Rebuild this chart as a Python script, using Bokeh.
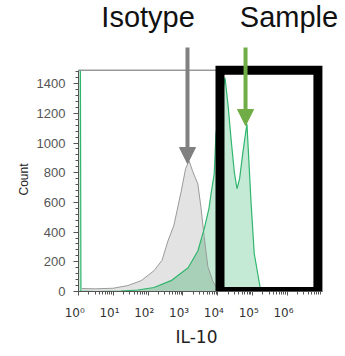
import numpy as np
from bokeh.plotting import figure
from bokeh.models import Arrow, NormalHead, Label, FixedTicker, SingleIntervalTicker, Range1d, Title
from bokeh.embed import file_html
from bokeh.resources import INLINE

# ---------------- data (log10 IL-10 intensity, event count) ----------------
iso_exp = [0.10, 0.50, 1.00, 1.42, 1.80, 2.17, 2.40, 2.57, 2.74, 2.95, 3.08, 3.18,
           3.28, 3.43, 3.52, 3.61, 3.72, 3.86, 3.97, 4.10]
iso_count = [20, 18, 22, 40, 73, 140, 210, 340, 445, 673, 830, 880,
             810, 725, 565, 370, 165, 70, 25, 5]

sam_exp = [0.00, 0.055, 0.07, 0.50, 1.22, 1.70, 2.17, 2.66, 3.15, 3.43, 3.61, 3.75,
           3.81, 3.90, 3.95, 4.21, 4.30, 4.38, 4.48, 4.555, 4.63, 4.72, 4.84,
           4.96, 5.05, 5.20, 5.24]
sam_count = [1490, 1490, 3, 0, 3, 10, 27, 73, 160, 273, 420, 560,
             660, 792, 1060, 1440, 1250, 1037, 800, 692, 760, 930, 1130,
             593, 256, 54, 0]

x_tick_exp = [0, 1, 2, 3, 4, 5, 6]
x_tick_labels = ["10⁰", "10¹", "10²", "10³", "10⁴", "10⁵", "10⁶"]
y_ticks_step = 200

iso_x = [10 ** e for e in iso_exp]
sam_x = [10 ** e for e in sam_exp]

# overlap (min of both curves) for the darker shaded region
grid = np.array(sorted(set([e for e in iso_exp + sam_exp if iso_exp[0] <= e <= iso_exp[-1]])))
ov = np.minimum(np.interp(grid, iso_exp, iso_count), np.interp(grid, sam_exp, sam_count))

# ---------------- layout constants ----------------
Y_TOP = 1490
GATE = dict(left=10 ** 4.066, right=10 ** 6.88, bottom=0, top=1491)

p = figure(width=344, height=348, x_axis_type="log",
           x_range=Range1d(1, 10 ** 7.644), y_range=Range1d(0, 1960),
           output_backend="svg", toolbar_location=None,
           min_border_left=78, min_border_right=0, min_border_top=0, min_border_bottom=57)
p.title.visible = False
p.outline_line_color = None
p.background_fill_color = "white"
p.border_fill_color = "white"
p.xgrid.visible = False
p.ygrid.visible = False

# fills
p.varea(x=iso_x, y1=0, y2=iso_count, fill_color="#e3e3e3")
p.varea(x=sam_x, y1=0, y2=sam_count, fill_color="#c4ead5")
p.varea(x=[10 ** g for g in grid], y1=0, y2=ov, fill_color="#a8cfb7")
# lines
p.line(iso_x, iso_count, line_color="#9a9a9a", line_width=1)
p.line(sam_x, sam_count, line_color="#2fb56d", line_width=1.2)

# frame top line
p.line([1, GATE["left"]], [Y_TOP, Y_TOP], line_color="#999999", line_width=1.5)

# gate box
p.quad(left=GATE["left"], right=GATE["right"], bottom=GATE["bottom"], top=GATE["top"],
       fill_color=None, line_color="black", line_width=9, line_join="miter")

# arrows
p.add_layout(Arrow(end=NormalHead(size=16, fill_color="#808080", line_color="#808080"),
                   x_start=10 ** 3.132, y_start=1643, x_end=10 ** 3.132, y_end=862,
                   line_color="#808080", line_width=4))
p.add_layout(Arrow(end=NormalHead(size=16, fill_color="#70ad47", line_color="#70ad47"),
                   x_start=10 ** 4.80, y_start=1643, x_end=10 ** 4.80, y_end=1118,
                   line_color="#70ad47", line_width=4))

# texts inside the frame
for txt, xe in [("Isotype", 2.0), ("Sample", 6.05)]:
    p.add_layout(Label(x=10 ** xe, y=1850, text=txt, text_align="center",
                       text_baseline="alphabetic", text_font="Liberation Sans",
                       text_font_size="29px", text_color="#111111"))

# axis titles
p.add_layout(Title(text="IL-10", align="left", offset=97, standoff=4,
                   text_font="DejaVu Sans", text_font_size="17px",
                   text_font_style="normal", text_color="#222222"), "below")
p.add_layout(Title(text="Count", align="left", offset=96, standoff=6,
                   text_font="Liberation Sans", text_font_size="12px",
                   text_font_style="normal", text_color="#222222"), "left")

# axes
xa = p.xaxis[0]
xa.ticker = FixedTicker(ticks=[10 ** e for e in x_tick_exp],
                        minor_ticks=[m * 10 ** e for e in x_tick_exp for m in range(2, 10)])
xa.major_label_overrides = {10 ** e: lab + "\u2007" for e, lab in zip(x_tick_exp, x_tick_labels)}
xa.bounds = (1, 1e7)
xa.major_label_text_font = "DejaVu Sans"
xa.major_label_text_font_size = "12px"
xa.major_label_text_color = "#333333"
xa.major_label_standoff = 10
xa.major_tick_out = 4
xa.major_tick_in = 0
xa.minor_tick_out = 3
xa.minor_tick_in = 0
xa.axis_line_color = "#555555"
xa.major_tick_line_color = "#555555"
xa.minor_tick_line_color = "#555555"

ya = p.yaxis[0]
ya.ticker = SingleIntervalTicker(interval=y_ticks_step, num_minor_ticks=5)
ya.bounds = (0, Y_TOP)
ya.major_label_text_font = "Liberation Sans"
ya.major_label_text_font_size = "13px"
ya.major_label_text_color = "#555555"
ya.major_label_standoff = 8
ya.major_tick_out = 5
ya.major_tick_in = 0
ya.minor_tick_out = 3
ya.minor_tick_in = 0
ya.axis_line_color = "#555555"
ya.major_tick_line_color = "#555555"
ya.minor_tick_line_color = "#555555"

open("out.html", "w").write(file_html(p, INLINE))
